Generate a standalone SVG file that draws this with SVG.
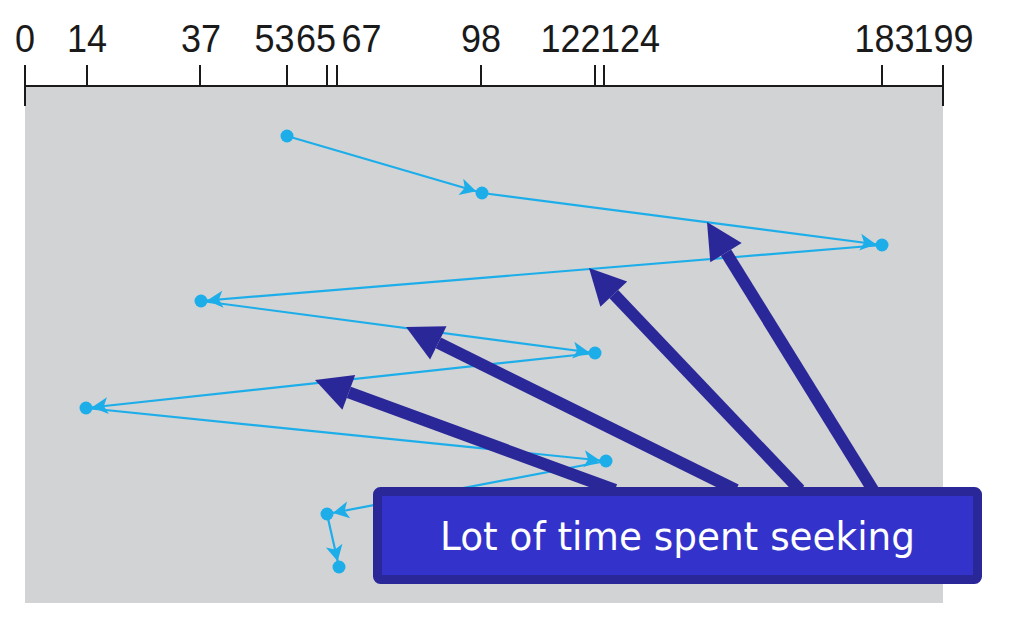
<svg xmlns="http://www.w3.org/2000/svg" width="1012" height="625" viewBox="0 0 1012 625">
<defs>
<style>
.ax{stroke:#1a1a1a;stroke-width:2;fill:none}
.lbl{font-family:"Liberation Sans",Arial,sans-serif;font-size:36px;fill:#1a1a1a;text-anchor:middle}
.seg{stroke:#1daeea;stroke-width:2.2;fill:none;marker-end:url(#ah)}
.dot{fill:#1daeea}
.big{stroke:#2a2899;stroke-width:12;fill:none}
.bighead{fill:#2a2899}
</style>
<marker id="ah" markerUnits="userSpaceOnUse" viewBox="-25 -10 30 20" markerWidth="30" markerHeight="20" refX="0" refY="0" orient="auto" overflow="visible">
<path d="M-6,0 L-22,-8.5 L-18,0 L-22,8.5 Z" fill="#1daeea"/>
</marker>
</defs>
<rect x="0" y="0" width="1012" height="625" fill="#ffffff"/>
<rect id="plot" x="25" y="86" width="918" height="517" fill="#d2d3d5"/>
<g id="axis">
<path class="ax" d="M25,86 H943 M25,65 V106 M943,65 V106 M87,65 V86 M200,65 V86 M287,65 V86 M327,65 V86 M337,65 V86 M481,65 V86 M595,65 V86 M604,65 V86 M882,65 V86"/>
<text class="lbl" transform="translate(25,52) scale(1,1.1)">0</text>
<text class="lbl" transform="translate(87,52) scale(1,1.1)">14</text>
<text class="lbl" transform="translate(201,52) scale(1,1.1)">37</text>
<text class="lbl" transform="translate(274.5,52) scale(1,1.1)">53</text>
<text class="lbl" transform="translate(316,52) scale(1,1.1)">65</text>
<text class="lbl" transform="translate(361.5,52) scale(1,1.1)">67</text>
<text class="lbl" transform="translate(481,52) scale(1,1.1)">98</text>
<text class="lbl" transform="translate(570.5,52) scale(1,1.1)">122</text>
<text class="lbl" transform="translate(630,52) scale(1,1.1)">124</text>
<text class="lbl" transform="translate(884.5,52) scale(1,1.1)">183</text>
<text class="lbl" transform="translate(943.5,52) scale(1,1.1)">199</text>
</g>
<g id="connectors">
<line class="seg" x1="287" y1="136" x2="482" y2="193"/>
<line class="seg" x1="482" y1="193" x2="882" y2="245"/>
<line class="seg" x1="882" y1="245" x2="201" y2="301"/>
<line class="seg" x1="201" y1="301" x2="595" y2="353"/>
<line class="seg" x1="595" y1="353" x2="86" y2="408"/>
<line class="seg" x1="86" y1="408" x2="606" y2="461"/>
<line class="seg" x1="606" y1="461" x2="327" y2="514"/>
<line class="seg" x1="327" y1="514" x2="339" y2="567"/>
</g>
<g id="n53"><circle class="dot" cx="287" cy="136" r="6.5"/></g>
<g id="n98"><circle class="dot" cx="482" cy="193" r="6.5"/></g>
<g id="n183"><circle class="dot" cx="882" cy="245" r="6.5"/></g>
<g id="n37"><circle class="dot" cx="201" cy="301" r="6.5"/></g>
<g id="n122"><circle class="dot" cx="595" cy="353" r="6.5"/></g>
<g id="n14"><circle class="dot" cx="86" cy="408" r="6.5"/></g>
<g id="n124"><circle class="dot" cx="606" cy="461" r="6.5"/></g>
<g id="n65"><circle class="dot" cx="327" cy="514" r="6.5"/></g>
<g id="n67"><circle class="dot" cx="339" cy="567" r="6.5"/></g>
<g id="callout-arrows">
<line class="big" x1="348.8" y1="392.4" x2="615" y2="490"/>
<polygon class="bighead" points="315,380 342.4,409.8 355.2,375"/>
<line class="big" x1="438.3" y1="342.9" x2="736" y2="490"/>
<polygon class="bighead" points="406,327 430.1,359.5 446.5,326.3"/>
<line class="big" x1="613.8" y1="294.1" x2="800" y2="490"/>
<polygon class="bighead" points="589,268 600.4,306.8 627.2,281.4"/>
<line class="big" x1="726" y1="252.6" x2="873" y2="490"/>
<polygon class="bighead" points="707,222 710.3,262.3 741.7,242.9"/>
</g>
<g id="callout">
<rect x="377.5" y="491.5" width="600" height="88" rx="3" fill="#3333cc" stroke="#2a2899" stroke-width="9"/>
<text x="440" y="550" font-family="'DejaVu Sans',Verdana,sans-serif" font-size="39" fill="#ffffff" textLength="475" lengthAdjust="spacingAndGlyphs">Lot of time spent seeking</text>
</g>
</svg>
